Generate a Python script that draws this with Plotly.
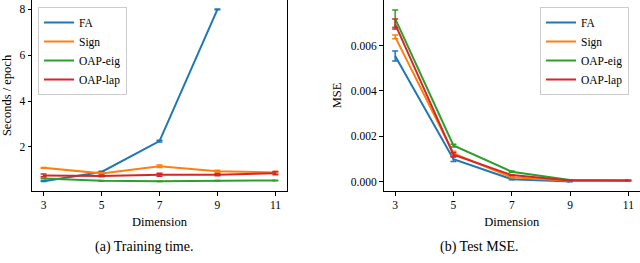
import plotly.graph_objects as go

dims = [3, 5, 7, 9, 11]
series = ["FA", "Sign", "OAP-eig", "OAP-lap"]
colors = ["#1f77b4", "#ff7f0e", "#2ca02c", "#d62728"]

# Training time (seconds / epoch); FA has no value at 11
time_fa = [0.5, 0.9, 2.25, 8.0, None]
time_sign = [1.08, 0.84, 1.15, 0.93, 0.88]
time_eig = [0.62, 0.52, 0.5, 0.52, 0.53]
time_lap = [0.75, 0.73, 0.78, 0.78, 0.85]
time_fa_err = [0.02, 0.03, 0.04, 0.02, 0]
time_sign_err = [0.02, 0.03, 0.05, 0.05, 0.04]
time_eig_err = [0.01, 0.01, 0.01, 0.01, 0.01]
time_lap_err = [0.06, 0.04, 0.07, 0.04, 0.07]

# Test MSE; FA has no value at 11
mse_fa = [0.00554, 0.00100, 0.00012, 0.00002, None]
mse_sign = [0.00638, 0.00125, 0.00020, 0.00005, 0.00005]
mse_eig = [0.00718, 0.00160, 0.00045, 0.00008, 0.00006]
mse_lap = [0.00694, 0.00120, 0.00030, 0.00006, 0.00006]
mse_fa_err = [0.00022, 0.00010, 0.00002, 0.00001, 0]
mse_sign_err = [0.00008, 0.00010, 0.00002, 0.00001, 0.00001]
mse_eig_err = [0.00038, 0.00006, 0.00003, 0.00001, 0.00001]
mse_lap_err = [0.00022, 0.00008, 0.00002, 0.00001, 0.00001]

time_vals = [time_fa, time_sign, time_eig, time_lap]
time_errs = [time_fa_err, time_sign_err, time_eig_err, time_lap_err]
mse_vals = [mse_fa, mse_sign, mse_eig, mse_lap]
mse_errs = [mse_fa_err, mse_sign_err, mse_eig_err, mse_lap_err]

FONT = "Liberation Serif, serif"

fig = go.Figure()

def add_series(vals, errs, xa, ya, leg):
    for name, c, v, e in zip(series, colors, vals, errs):
        xs = [d for d, y in zip(dims, v) if y is not None]
        ys = [y for y in v if y is not None]
        es = [er for er, y in zip(e, v) if y is not None]
        fig.add_trace(go.Scatter(
            x=xs, y=ys, mode="lines", name=name,
            line=dict(color=c, width=2),
            error_y=dict(type="data", array=es, visible=True, color=c,
                         thickness=1.5, width=3),
            xaxis=xa, yaxis=ya, legend=leg,
        ))

add_series(time_vals, time_errs, "x", "y", "legend")
add_series(mse_vals, mse_errs, "x2", "y2", "legend2")

axis_common = dict(
    showline=True, mirror=True, linecolor="black", linewidth=1,
    ticks="outside", ticklen=3.5, tickwidth=1, tickcolor="black",
    showgrid=False, zeroline=False, ticklabeloverflow="allow",
    tickfont=dict(family=FONT, size=11.5, color="black", weight="normal"),
)

W, H = 640, 263
bottom = 1 - 191 / H

title_font = dict(family=FONT, size=12.5, color="black", weight="normal")
legend_common = dict(
    xanchor="left", yanchor="top",
    bgcolor="rgba(255,255,255,0.8)", bordercolor="#cccccc", borderwidth=1,
    font=dict(family=FONT, size=11.5, color="black", weight="normal"),
    tracegroupgap=0, itemwidth=30,
)

fig.update_layout(
    width=W, height=H,
    margin=dict(l=0, r=0, t=0, b=0),
    paper_bgcolor="white", plot_bgcolor="white",
    font=dict(family=FONT, color="black", weight="normal"),
    xaxis=dict(domain=[32 / W, 287 / W], range=[2.6, 11.4],
               tickvals=dims, anchor="y",
               title=dict(text="Dimension", font=title_font, standoff=6),
               **axis_common),
    yaxis=dict(domain=[bottom, 1.0], range=[0.07, 8.41],
               tickvals=[2, 4, 6, 8], anchor="x",
               title=dict(text="Seconds / epoch", font=title_font, standoff=6),
               **axis_common),
    xaxis2=dict(domain=[383.5 / W, 1.0], range=[2.6, 11.4],
                tickvals=dims, anchor="y2",
                title=dict(text="Dimension", font=title_font, standoff=6),
                **axis_common),
    yaxis2=dict(domain=[bottom, 1.0], range=[-0.0004, 0.0080],
                tickvals=[0, 0.002, 0.004, 0.006], tickformat=".3f", anchor="x2",
                title=dict(text="MSE", font=title_font, standoff=6),
                **axis_common),
    legend=dict(x=38 / W, y=1 - 7 / H, **legend_common),
    legend2=dict(x=540 / W, y=1 - 7 / H, **legend_common),
    annotations=[
        dict(text="(a) Training time.", x=144 / W, y=1 - 247 / H, xref="paper", yref="paper",
             showarrow=False, font=dict(family=FONT, size=14, color="black"),
             xanchor="center", yanchor="middle"),
        dict(text="(b) Test MSE.", x=479 / W, y=1 - 247 / H, xref="paper", yref="paper",
             showarrow=False, font=dict(family=FONT, size=14, color="black"),
             xanchor="center", yanchor="middle"),
    ],
)

fig.write_html("out.html", config={"displayModeBar": False},
               post_script="document.body.style.margin='0';document.body.style.overflow='hidden';")
